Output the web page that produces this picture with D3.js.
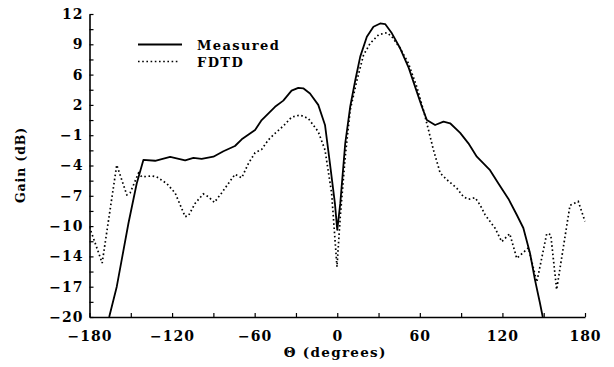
<!DOCTYPE html>
<html>
<head>
<meta charset="utf-8">
<script src="https://cdn.jsdelivr.net/npm/d3@7"></script>
<style>
  html, body { margin: 0; padding: 0; background: #fff; }
  svg { display: block; }
  text { font-family: "DejaVu Serif", "Liberation Serif", serif; font-weight: bold; fill: #000; }
</style>
</head>
<body>
<svg id="chart" width="614" height="367"></svg>
<script>
// Radiation pattern: measured gain vs. FDTD prediction
const measuredTheta = [-165.7, -160.2, -151.7, -145.7, -140.8, -132.3, -121.4, -110.5, -104.5, -98.5, -90, -82.7, -74.3, -69.4, -59.7, -54.9, -45.2, -39.2, -33.2, -28.3, -24.7, -19.8, -13.8, -8.9, -5.3, -1.7, 0, 2.2, 5.8, 9.4, 13.1, 16.7, 21.5, 26.3, 31.2, 34.8, 39.7, 45.7, 51.7, 56.6, 61.5, 65.1, 71.1, 77.2, 82, 89.3, 95.3, 101.4, 111, 117.1, 124.3, 130.4, 135.2, 140.1, 143.7, 147.3, 149.3];
const measuredGain = [-20, -16.8, -10.1, -5.9, -3.4, -3.5, -3.1, -3.45, -3.2, -3.3, -3.07, -2.5, -1.94, -1.23, -0.25, 0.8, 2.2, 2.85, 3.9, 4.2, 4.15, 3.6, 2.4, 0.28, -3.8, -8.0, -10.8, -8.0, -1.65, 2.2, 5.0, 7.5, 9.6, 10.66, 11.0, 10.94, 9.96, 8.38, 6.4, 4.3, 2.2, 0.8, 0.28, 0.63, 0.46, -0.55, -1.66, -3.07, -4.5, -5.9, -7.5, -9.2, -10.6, -13.3, -16.1, -18.55, -20];

const fdtdTheta = [-180, -170.8, -160.2, -152.9, -150.5, -144.4, -142, -134.8, -131.2, -123.9, -117.8, -110.5, -108.1, -103.3, -97.3, -93.6, -89.3, -84, -74.3, -69.4, -64.6, -59.7, -54.9, -50.1, -45.2, -39.2, -33.2, -27.1, -21.1, -13.8, -8.9, -4.1, -0.2, 2.2, 5.8, 9.4, 14.3, 19.1, 23.9, 30, 36.1, 39.7, 45.7, 51.7, 57.8, 62.6, 66.3, 69.9, 74.8, 79.6, 86.9, 91.7, 95.3, 100.2, 103.8, 107.4, 114.7, 119.5, 125.3, 130.4, 138.9, 145, 152.2, 155.1, 159.4, 169.1, 175.1, 180];
const fdtdGain = [-10.5, -14.3, -3.95, -7.1, -6.9, -4.8, -5.2, -5.1, -5.2, -5.9, -6.9, -9.4, -9.3, -8.0, -7.0, -7.3, -7.9, -6.9, -4.93, -5.3, -3.8, -2.65, -2.3, -1.3, -0.6, 0.17, 1.1, 1.33, 0.98, -0.43, -2.36, -6.9, -14.7, -9.4, -3.07, 1.86, 5.0, 7.67, 8.9, 9.8, 10.03, 9.6, 8.38, 6.8, 4.3, 1.86, -0.25, -2.36, -4.8, -5.5, -6.4, -7.3, -7.57, -7.4, -8.17, -9.2, -10.63, -12.05, -11.2, -13.8, -12.7, -16.3, -11.2, -11.3, -17.1, -8.2, -7.8, -9.9];

// Axis ticks: gain axis is split into ten equal steps, labels rounded to whole dB
const yTickValues = d3.range(0, 11).map(i => -20 + 3.2 * i);
const yMinorValues = d3.range(0, 10).map(i => -18.4 + 3.2 * i);
const xTickValues = d3.range(-180, 181, 30);
const xLabelValues = [-180, -120, -60, 0, 60, 120, 180];

const seriesNames = ["Measured", "FDTD"];

const svg = d3.select("#chart");
const x = d3.scaleLinear().domain([-180, 180]).range([89.5, 585]);
const y = d3.scaleLinear().domain([-20, 12]).range([317, 14]);

const minus = s => String(s).replace("-", "\u2212");

// Y axis
const yAxis = svg.append("g")
  .attr("transform", `translate(${x.range()[0]},0)`)
  .call(d3.axisLeft(y).tickValues(yTickValues)
    .tickFormat(v => minus(Math.round(v)))
    .tickSizeInner(-4).tickSizeOuter(0).tickPadding(6));
svg.append("g")
  .attr("transform", `translate(${x.range()[0]},0)`)
  .call(d3.axisLeft(y).tickValues(yMinorValues).tickFormat("")
    .tickSizeInner(-4).tickSizeOuter(0))
  .select(".domain").remove();

// X axis
const xAxis = svg.append("g")
  .attr("transform", `translate(0,${y.range()[0]})`)
  .call(d3.axisBottom(x).tickValues(xTickValues)
    .tickFormat(v => xLabelValues.includes(v) ? minus(v) : "")
    .tickSizeInner(-4).tickSizeOuter(0).tickPadding(14));

[yAxis, xAxis].forEach(g => {
  g.attr("font-size", null).attr("font-family", null);
  g.selectAll("text").style("font-size", "14px").style("letter-spacing", "1px");
});
svg.selectAll(".domain").attr("stroke", "#000").attr("stroke-width", 1.6);
svg.selectAll(".tick line").attr("stroke", "#000").attr("stroke-width", 1.2);

// Clip curves to the plotting area
svg.append("clipPath").attr("id", "plot")
  .append("rect").attr("x", x.range()[0]).attr("y", y.range()[1])
  .attr("width", x.range()[1] - x.range()[0] + 1).attr("height", y.range()[0] - y.range()[1]);

const line = d3.line().x(d => x(d[0])).y(d => y(d[1])).curve(d3.curveLinear);

const plot = svg.append("g").attr("clip-path", "url(#plot)");
plot.append("path")
  .datum(d3.zip(fdtdTheta, fdtdGain))
  .attr("d", line)
  .attr("fill", "none").attr("stroke", "#000")
  .attr("stroke-width", 1.7).attr("stroke-dasharray", "1.6,2.6");
plot.append("path")
  .datum(d3.zip(measuredTheta, measuredGain))
  .attr("d", line)
  .attr("fill", "none").attr("stroke", "#000")
  .attr("stroke-width", 1.8).attr("stroke-linejoin", "round");

// Legend
const legend = svg.append("g");
legend.append("line").attr("x1", 138).attr("x2", 182).attr("y1", 44.5).attr("y2", 44.5)
  .attr("stroke", "#000").attr("stroke-width", 1.8);
legend.append("line").attr("x1", 138).attr("x2", 179).attr("y1", 61.5).attr("y2", 61.5)
  .attr("stroke", "#000").attr("stroke-width", 1.7).attr("stroke-dasharray", "1.6,2.6");
legend.selectAll("text.lg").data(seriesNames).join("text")
  .attr("class", "lg")
  .attr("x", 197).attr("y", (d, i) => 50 + i * 17)
  .style("font-size", "13px").style("letter-spacing", "1.4px")
  .text(d => d);

// Axis titles
svg.append("text")
  .attr("x", (x.range()[0] + x.range()[1]) / 2 - 2).attr("y", 357)
  .attr("text-anchor", "middle")
  .style("font-size", "13.5px").style("letter-spacing", "1.3px")
  .text("\u0398 (degrees)");
svg.append("text")
  .attr("transform", "translate(25,165) rotate(-90)")
  .attr("text-anchor", "middle")
  .style("font-size", "12.5px").style("letter-spacing", "0.9px")
  .text("Gain (dB)");
</script>
</body>
</html>
